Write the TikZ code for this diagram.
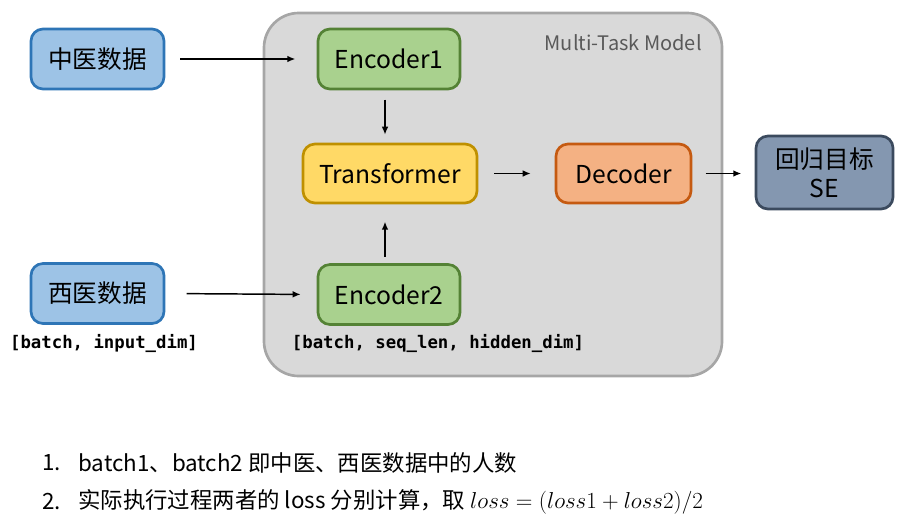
\documentclass[tikz,border=0pt]{standalone}
\usepackage{fontspec}
\setmainfont{Noto Sans CJK SC}
\newfontfamily\codefont{DejaVu Sans Mono}
\usetikzlibrary{arrows.meta}
\definecolor{bluefill}{HTML}{9DC3E6}
\definecolor{blueline}{HTML}{2E75B6}
\definecolor{greenfill}{HTML}{A9D18E}
\definecolor{greenline}{HTML}{548235}
\definecolor{yellowfill}{HTML}{FFD966}
\definecolor{yellowline}{HTML}{BF9000}
\definecolor{orangefill}{HTML}{F4B183}
\definecolor{orangeline}{HTML}{C55A11}
\definecolor{sefill}{HTML}{8497B0}
\definecolor{seline}{HTML}{3B4A5E}
\definecolor{panelfill}{HTML}{D9D9D9}
\definecolor{panelline}{HTML}{A6A6A6}
\definecolor{paneltext}{HTML}{595959}
\tikzset{
  box/.style={draw, line width=2pt, rounded corners=9pt, inner sep=0pt, font=\fontsize{18.5}{21.5}\selectfont, align=center},
  databox/.style={box, fill=bluefill, draw=blueline, minimum width=99.75pt, minimum height=45pt},
  encbox/.style={box, fill=greenfill, draw=greenline, minimum width=106.5pt, minimum height=45pt},
  transbox/.style={box, fill=yellowfill, draw=yellowline, minimum width=130.5pt, minimum height=44.25pt},
  decbox/.style={box, fill=orangefill, draw=orangeline, minimum width=101.25pt, minimum height=44.25pt},
  sebox/.style={box, fill=sefill, draw=seline, minimum width=102.75pt, minimum height=54.75pt},
  conn/.style={-{Latex[length=6pt,width=5pt]}, line width=1.1pt},
  codelabel/.style={font=\codefont\bfseries\fontsize{13}{15}\selectfont, inner sep=0pt},
  notetext/.style={font=\fontsize{16.8}{19}\selectfont, anchor=west, inner sep=0pt}
}
\begin{document}
\begin{tikzpicture}[x=0.75pt,y=-0.75pt]
\useasboundingbox (0,0) rectangle (909,529);
% panel
\draw[fill=panelfill, draw=panelline, line width=2pt, rounded corners=26pt] (264,13) rectangle (722,376);
\node[anchor=east, text=paneltext, font=\fontsize{15}{17}\selectfont, inner sep=0pt] (title) at (702,43) {Multi-Task Model};
% nodes
\node[databox] (zy) at (97.5,59) {中医数据};
\node[databox] (xy) at (97.5,293.5) {西医数据};
\node[encbox] (enc1) at (389,59) {Encoder1};
\node[encbox] (enc2) at (389,294.5) {Encoder2};
\node[transbox] (trans) at (390,173.5) {Transformer};
\node[decbox] (dec) at (623.5,173.5) {Decoder};
\node[sebox] (se) at (824.5,172.5) {回归目标\\SE};
\node[codelabel] (lab1) at (104,343) {[batch, input\_dim]};
\node[codelabel] (lab2) at (438,343) {[batch, seq\_len, hidden\_dim]};
% connectors
\draw[conn, shorten <=11pt, shorten >=16pt] (zy.east) -- (enc1.west);
\draw[conn, shorten <=16pt, shorten >=12pt] (xy.east) -- (enc2.west);
\draw[conn, shorten <=7pt, shorten >=6pt] ([xshift=-3pt]enc1.south) -- ([xshift=-3pt]enc1.south |- trans.north);
\draw[conn, shorten <=5pt, shorten >=13pt] ([xshift=-3pt]enc2.north) -- ([xshift=-3pt]enc2.north |- trans.south);
\draw[conn, shorten <=12pt, shorten >=18pt] (trans.east) -- (dec.west);
\draw[conn, shorten <=10pt, shorten >=10pt] (dec.east) -- (dec.east -| se.west);
% notes
\node[notetext] (n1num) at (42,463) {1.};
\node[notetext] (n1) at (78,463) {batch1、batch2 即中医、西医数据中的人数};
\node[notetext] (n2num) at (42,502) {2.};
\node[notetext] (n2) at (78,502) {实际执行过程两者的 loss 分别计算，取 $loss=(loss1+loss2)/2$};
\end{tikzpicture}
\end{document}
